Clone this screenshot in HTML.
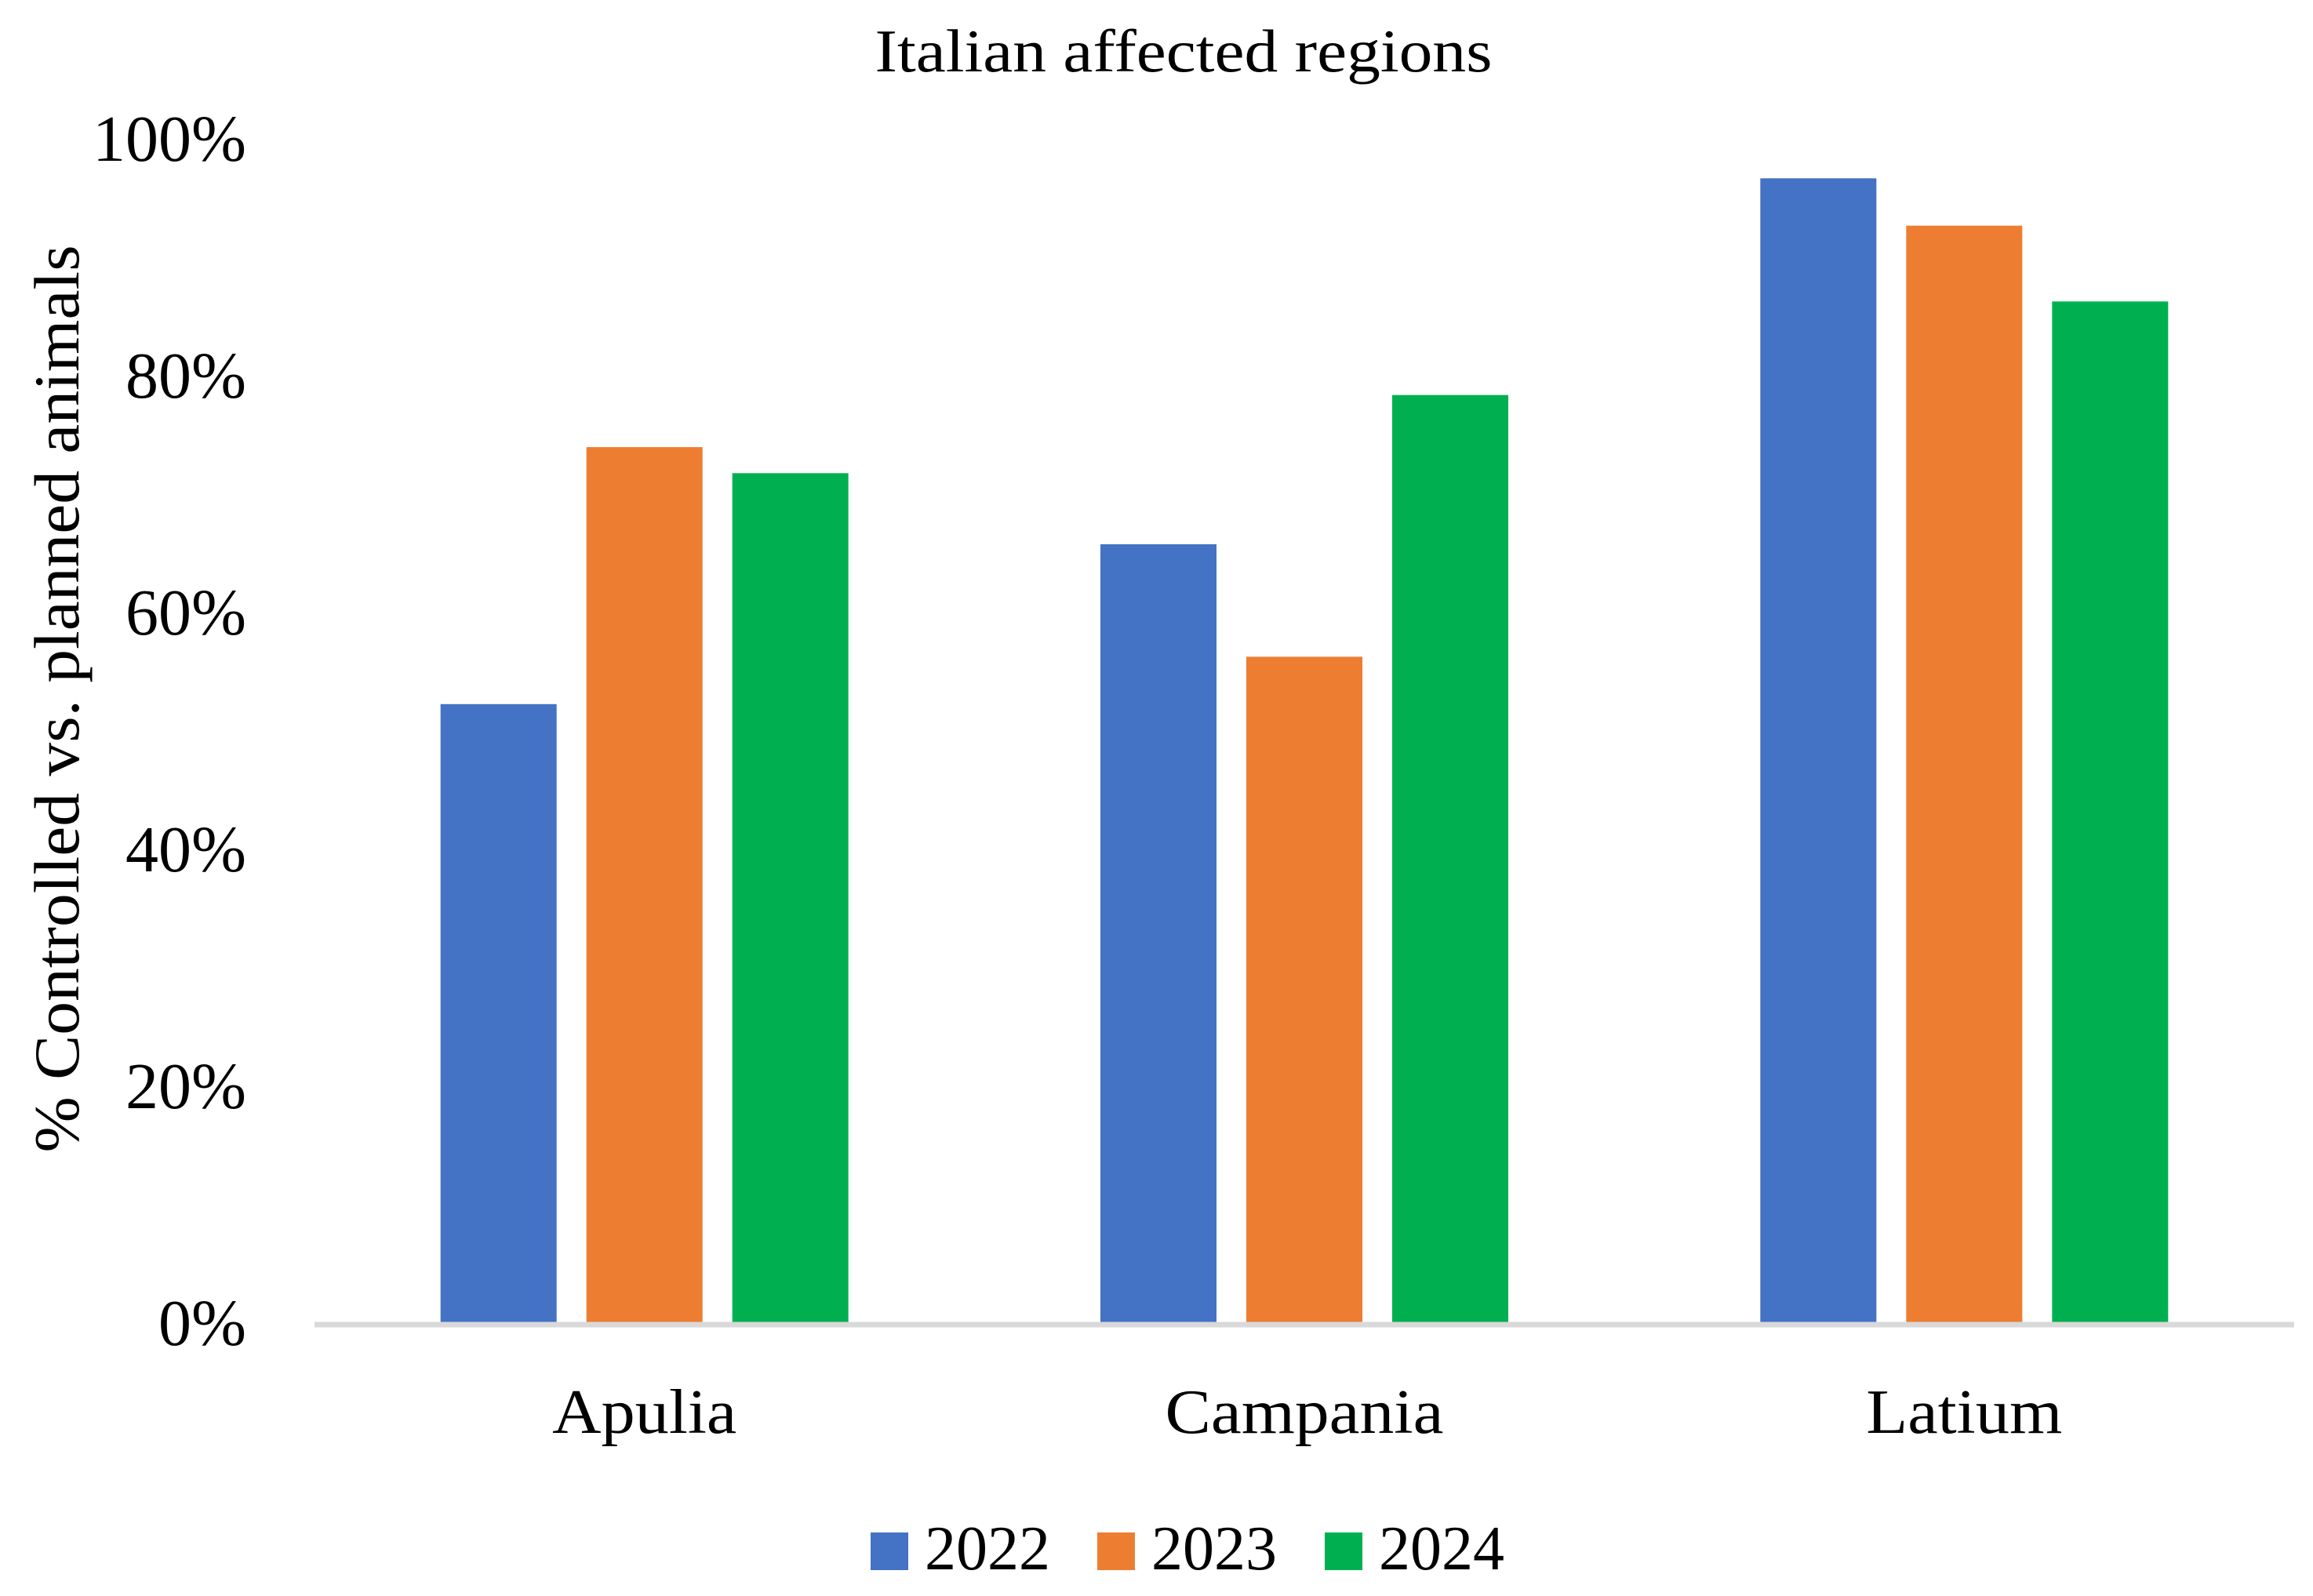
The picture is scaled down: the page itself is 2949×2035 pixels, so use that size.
<!DOCTYPE html>
<html><head><meta charset="utf-8">
<style>
html,body{margin:0;padding:0;background:#fff;}
svg{display:block;font-family:"Liberation Serif",serif;}
</style></head>
<body>
<svg id="chart" width="2949" height="2035" viewBox="0 0 2949 2035" xmlns="http://www.w3.org/2000/svg">
<rect width="2949" height="2035" fill="#fff"/>
<text x="1509" y="91" font-size="77" text-anchor="middle" textLength="787" lengthAdjust="spacingAndGlyphs">Italian affected regions</text>
<text transform="translate(100,891) rotate(-90)" font-size="82" text-anchor="middle" textLength="1157" lengthAdjust="spacingAndGlyphs">% Controlled vs. planned animals</text>
<g id="yticks"></g>
<g id="bars"></g>
<line x1="401" y1="1689" x2="2925" y2="1689" stroke="#d9d9d9" stroke-width="7"/>
<g id="xlabels"></g>
<g id="legend"></g>
</svg>
<script>
const categories = ["Apulia", "Campania", "Latium"];
const series2022 = [52.2, 65.7, 96.6];
const series2023 = [73.9, 56.2, 92.6];
const series2024 = [71.7, 78.3, 86.2];
const seriesNames = ["2022", "2023", "2024"];
const yTickValues = [0, 20, 40, 60, 80, 100];
const yTickLabels = ["0%", "20%", "40%", "60%", "80%", "100%"];

const NS = "http://www.w3.org/2000/svg";
const colors = ["#4472c4", "#ed7d31", "#00b050"];
const allSeries = [series2022, series2023, series2024];
const plotX0 = 401, plotX1 = 2925, yBase = 1686, yTop = 176;
function yScale(v){ return yBase - (v/100)*(yBase - yTop); }
const catW = (plotX1 - plotX0) / categories.length;
function catCenter(i){ return plotX0 + catW*(i+0.5); }
const barW = 148, barStep = 186;
const catLabelWidths = [235, 355, 250];

const yt = document.getElementById('yticks');
yTickValues.forEach((v,i)=>{
  const t = document.createElementNS(NS,'text');
  t.setAttribute('x', 314);
  t.setAttribute('y', yScale(v) + 29);
  t.setAttribute('font-size', 84);
  t.setAttribute('text-anchor', 'end');
  
  
  t.textContent = yTickLabels[i];
  yt.appendChild(t);
});

const bg = document.getElementById('bars');
allSeries.forEach((s,si)=>{
  s.forEach((v,ci)=>{
    const r = document.createElementNS(NS,'rect');
    const cx = catCenter(ci) + (si-1)*barStep;
    r.setAttribute('x', cx - barW/2);
    r.setAttribute('y', yScale(v));
    r.setAttribute('width', barW);
    r.setAttribute('height', yBase - yScale(v));
    r.setAttribute('fill', colors[si]);
    
    
    bg.appendChild(r);
  });
});

const xl = document.getElementById('xlabels');
categories.forEach((c,i)=>{
  const t = document.createElementNS(NS,'text');
  t.setAttribute('x', catCenter(i));
  t.setAttribute('y', 1827);
  t.setAttribute('font-size', 80);
  t.setAttribute('text-anchor', 'middle');
  t.setAttribute('textLength', catLabelWidths[i]);
  t.setAttribute('lengthAdjust', 'spacingAndGlyphs');
  
  
  t.textContent = c;
  xl.appendChild(t);
});

const lg = document.getElementById('legend');
const legX = [1110, 1399, 1689];
seriesNames.forEach((n,i)=>{
  const r = document.createElementNS(NS,'rect');
  r.setAttribute('x', legX[i]);
  r.setAttribute('y', 1954);
  r.setAttribute('width', 48);
  r.setAttribute('height', 48);
  r.setAttribute('fill', colors[i]);
  
  
  lg.appendChild(r);
  const t = document.createElementNS(NS,'text');
  t.setAttribute('x', legX[i] + 69);
  t.setAttribute('y', 2001);
  t.setAttribute('font-size', 80);
  
  
  t.textContent = n;
  lg.appendChild(t);
});
</script>
</body></html>
